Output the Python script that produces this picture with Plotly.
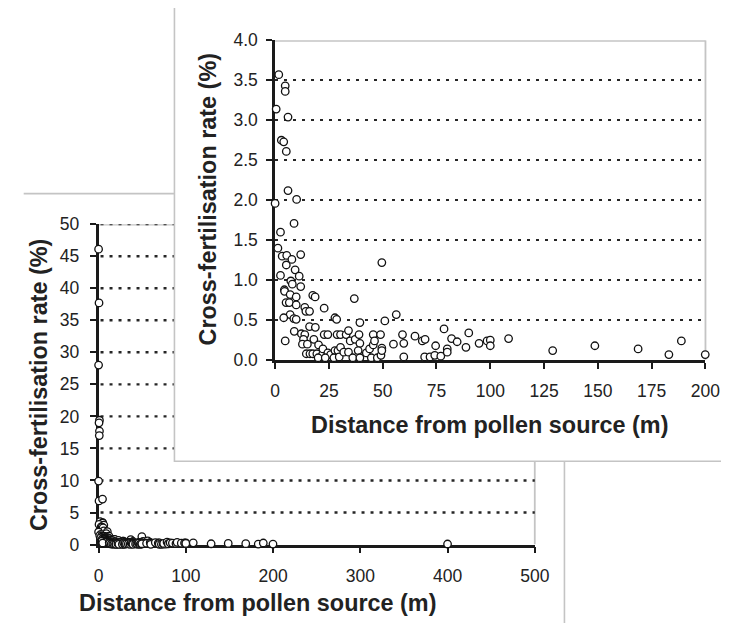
import plotly.graph_objects as go

# ---- data: distance (m) and cross-fertilisation rate (%) ----
distance = [
    0, 0.5, 0, 1, 0.5, 1, 0.8, 0, 0.5, 4.5,
    1.7, 4.7, 4.7, 0.5, 6, 2.9, 4, 5.2, 6, 10, 0,
    8.8, 2.5, 1.3, 3.3, 5.4, 7.8, 11.9, 5.2, 9.3, 2.5, 11.2, 7.3, 8.0, 11.9,
    4.3, 4.4, 7, 9.8, 17.5, 18.6, 36.8, 49.6,
    5.1, 6.6, 9.8, 13.8, 14.3, 16, 22.8, 7, 4, 8.7, 9.8, 27.8, 28.6, 39.4, 51, 56.3,
    8.9, 4.7, 12.2, 13.8, 16, 18.7, 13.2, 12.7, 15, 18, 20.2,
    14.5, 16.2, 17.5, 19.4, 22, 20,
    22.8, 24.5, 22.2, 24.5, 25.8, 23.3,
    27.8, 29.2, 27.3, 29.8,
    28.8, 30.4, 33.0, 34.1,
    30.4, 34.9, 31.9, 34.1, 36.1, 37.2, 39, 39.4, 38.6, 39.4, 42.4, 44.7, 43.9,
    45.6, 49, 45.6, 46.2, 47.5, 49.2, 49.6, 49.6,
    55, 59.2, 59.8, 59.8, 65, 68.4, 69.7, 69.5, 72, 74.2, 77, 74.6, 78.5,
    80, 80, 82, 84.6, 88.7, 90, 94.8, 98.5, 100, 100, 108.5,
    129, 148.6, 168.7, 183, 188.8, 199.9, 400,
]
rate = [
    46.1, 37.7, 28.0, 19.4, 19.0, 17.7, 17.0, 9.9, 6.8, 7.1,
    3.57, 3.43, 3.36, 3.14, 3.04, 2.75, 2.73, 2.61, 2.12, 2.01, 1.96,
    1.71, 1.60, 1.40, 1.30, 1.31, 1.26, 1.32, 1.19, 1.13, 1.06, 1.05, 0.99, 0.95, 0.92,
    0.88, 0.86, 0.82, 0.79, 0.81, 0.79, 0.77, 1.22,
    0.72, 0.72, 0.69, 0.66, 0.61, 0.61, 0.65, 0.57, 0.53, 0.52, 0.51, 0.53, 0.51, 0.47, 0.49, 0.57,
    0.36, 0.24, 0.33, 0.32, 0.42, 0.41, 0.26, 0.20, 0.20, 0.26, 0.19,
    0.08, 0.08, 0.08, 0.08, 0.07, 0.03,
    0.32, 0.32, 0.14, 0.09, 0.07, 0.03,
    0.12, 0.12, 0.03, 0.04,
    0.32, 0.32, 0.32, 0.37,
    0.16, 0.24, 0.10, 0.10, 0.03, 0.26, 0.32, 0.21, 0.12, 0.03, 0.09, 0.03, 0.14,
    0.32, 0.32, 0.19, 0.24, 0.03, 0.06, 0.15, 0.12,
    0.20, 0.32, 0.21, 0.04, 0.30, 0.24, 0.26, 0.04, 0.04, 0.06, 0.05, 0.18, 0.39,
    0.14, 0.10, 0.27, 0.23, 0.16, 0.34, 0.21, 0.24, 0.25, 0.18, 0.27,
    0.12, 0.18, 0.14, 0.07, 0.24, 0.07, 0.08,
]

main_x_ticks = [0, 100, 200, 300, 400, 500]
main_y_ticks = [0, 5, 10, 15, 20, 25, 30, 35, 40, 45, 50]
inset_x_ticks = [0, 25, 50, 75, 100, 125, 150, 175, 200]
inset_y_ticks = [0.0, 0.5, 1.0, 1.5, 2.0, 2.5, 3.0, 3.5, 4.0]

x_title = "Distance from pollen source (m)"
y_title = "Cross-fertilisation rate (%)"

# ---- geometry (pixels of a 729 x 623 page) ----
W, H = 729, 623
def px(v):
    return v / W
def py(v):
    return 1 - v / H

FONT = "Liberation Sans, Arial, sans-serif"
AX = "#1a1a1a"
GRID = "#262626"
BORDER = "#c4c4c4"
TXT = "#222222"

inset_x = [d for d, r in zip(distance, rate) if d <= 200 and r <= 4]
inset_y = [r for d, r in zip(distance, rate) if d <= 200 and r <= 4]

marker = dict(symbol="circle", size=7.5, color="white", line=dict(color="#111111", width=1.3))

fig = go.Figure()
fig.add_trace(go.Scatter(x=distance, y=rate, mode="markers", marker=marker,
                         xaxis="x", yaxis="y", cliponaxis=False, showlegend=False))
fig.add_trace(go.Scatter(x=inset_x, y=inset_y, mode="markers", marker=marker,
                         xaxis="x2", yaxis="y2", cliponaxis=False, showlegend=False))

axis_common = dict(showline=True, linecolor=AX, linewidth=2.6, ticks="outside",
                   ticklen=6, tickwidth=2.4, tickcolor=AX, zeroline=False,
                   layer="below traces", fixedrange=True,
                   tickfont=dict(family=FONT, size=17.5, color=TXT))

DOT = dict(color=GRID, width=2.4, dash="3px,6px")

# big chart plot area (pixels)
BX0, BX1, BY0, BY1 = 88, 536.5, 544, 213
# inset plot area (pixels)
IX0, IX1, IY0, IY1 = 269.5, 712, 353.5, 23

shapes = []
# big chart area border (top and right)
shapes.append(dict(type="line", xref="paper", yref="paper", x0=px(11), x1=px(567),
                   y0=py(181.5), y1=py(181.5), line=dict(color=BORDER, width=1.6), layer="below"))
shapes.append(dict(type="line", xref="paper", yref="paper", x0=px(567), x1=px(567),
                   y0=py(181.5), y1=-0.05, line=dict(color=BORDER, width=1.6), layer="below"))
# big plot area border (top and right)
shapes.append(dict(type="line", xref="paper", yref="y", x0=px(BX0), x1=px(BX1),
                   y0=50, y1=50, line=dict(color=BORDER, width=2.5), layer="below"))
shapes.append(dict(type="line", xref="paper", yref="y", x0=px(BX1), x1=px(BX1),
                   y0=0, y1=50, line=dict(color=BORDER, width=1.8), layer="below"))
# big chart gridlines
for v in main_y_ticks[1:]:
    shapes.append(dict(type="line", xref="paper", yref="y", x0=px(BX0 + 2), x1=px(BX1),
                       y0=v, y1=v, line=DOT, layer="below"))
# inset chart box
shapes.append(dict(type="rect", xref="paper", yref="paper", x0=px(166), x1=1.05,
                   y0=py(458), y1=1.05, fillcolor="white",
                   line=dict(color=BORDER, width=1.6), layer="below"))
# inset plot area border (top and right)
shapes.append(dict(type="line", xref="paper", yref="y2", x0=px(IX0), x1=px(IX1),
                   y0=4, y1=4, line=dict(color=BORDER, width=3), layer="below"))
shapes.append(dict(type="line", xref="paper", yref="y2", x0=px(IX1), x1=px(IX1),
                   y0=0, y1=4, line=dict(color=BORDER, width=1.8), layer="below"))

title_font = dict(family=FONT, size=23.4, color=TXT)
annotations = [
    dict(text="<b>%s</b>" % x_title, xref="paper", yref="paper", x=px(251), y=py(604),
         showarrow=False, font=title_font, xanchor="center", yanchor="middle"),
    dict(text="<b>%s</b>" % y_title, xref="paper", yref="paper", x=px(27), y=py(379),
         showarrow=False, font=title_font, textangle=-90, xanchor="center", yanchor="middle"),
    dict(text="<b>%s</b>" % x_title, xref="paper", yref="paper", x=px(490), y=py(420),
         showarrow=False, font=title_font, xanchor="center", yanchor="middle"),
    dict(text="<b>%s</b>" % y_title, xref="paper", yref="paper", x=px(200), y=py(188),
         showarrow=False, font=title_font, textangle=-90, xanchor="center", yanchor="middle"),
]

fig.update_layout(
    width=W, height=H, autosize=False,
    margin=dict(l=0, r=0, t=0, b=0, pad=0),
    paper_bgcolor="white", plot_bgcolor="rgba(0,0,0,0)",
    showlegend=False,
    xaxis=dict(domain=[px(BX0), px(BX1)], range=[0, 500], tickvals=main_x_ticks,
               anchor="y", showgrid=False, ticklabelstandoff=8, **axis_common),
    yaxis=dict(domain=[py(BY0), py(BY1)], range=[0, 50], tickvals=main_y_ticks,
               anchor="x", showgrid=False, ticklabelstandoff=7, **axis_common),
    xaxis2=dict(domain=[px(IX0), px(IX1)], range=[0, 200], tickvals=inset_x_ticks,
                anchor="y2", showgrid=False, ticklabelstandoff=7, **axis_common),
    yaxis2=dict(domain=[py(IY0), py(IY1)], range=[0, 4], tickvals=inset_y_ticks,
                tickformat=".1f", anchor="x2", showgrid=True, gridcolor=GRID,
                gridwidth=2.4, griddash="3px,6px", ticklabelstandoff=5, **axis_common),
    shapes=shapes,
    annotations=annotations,
)

fig.write_html("out.html")
